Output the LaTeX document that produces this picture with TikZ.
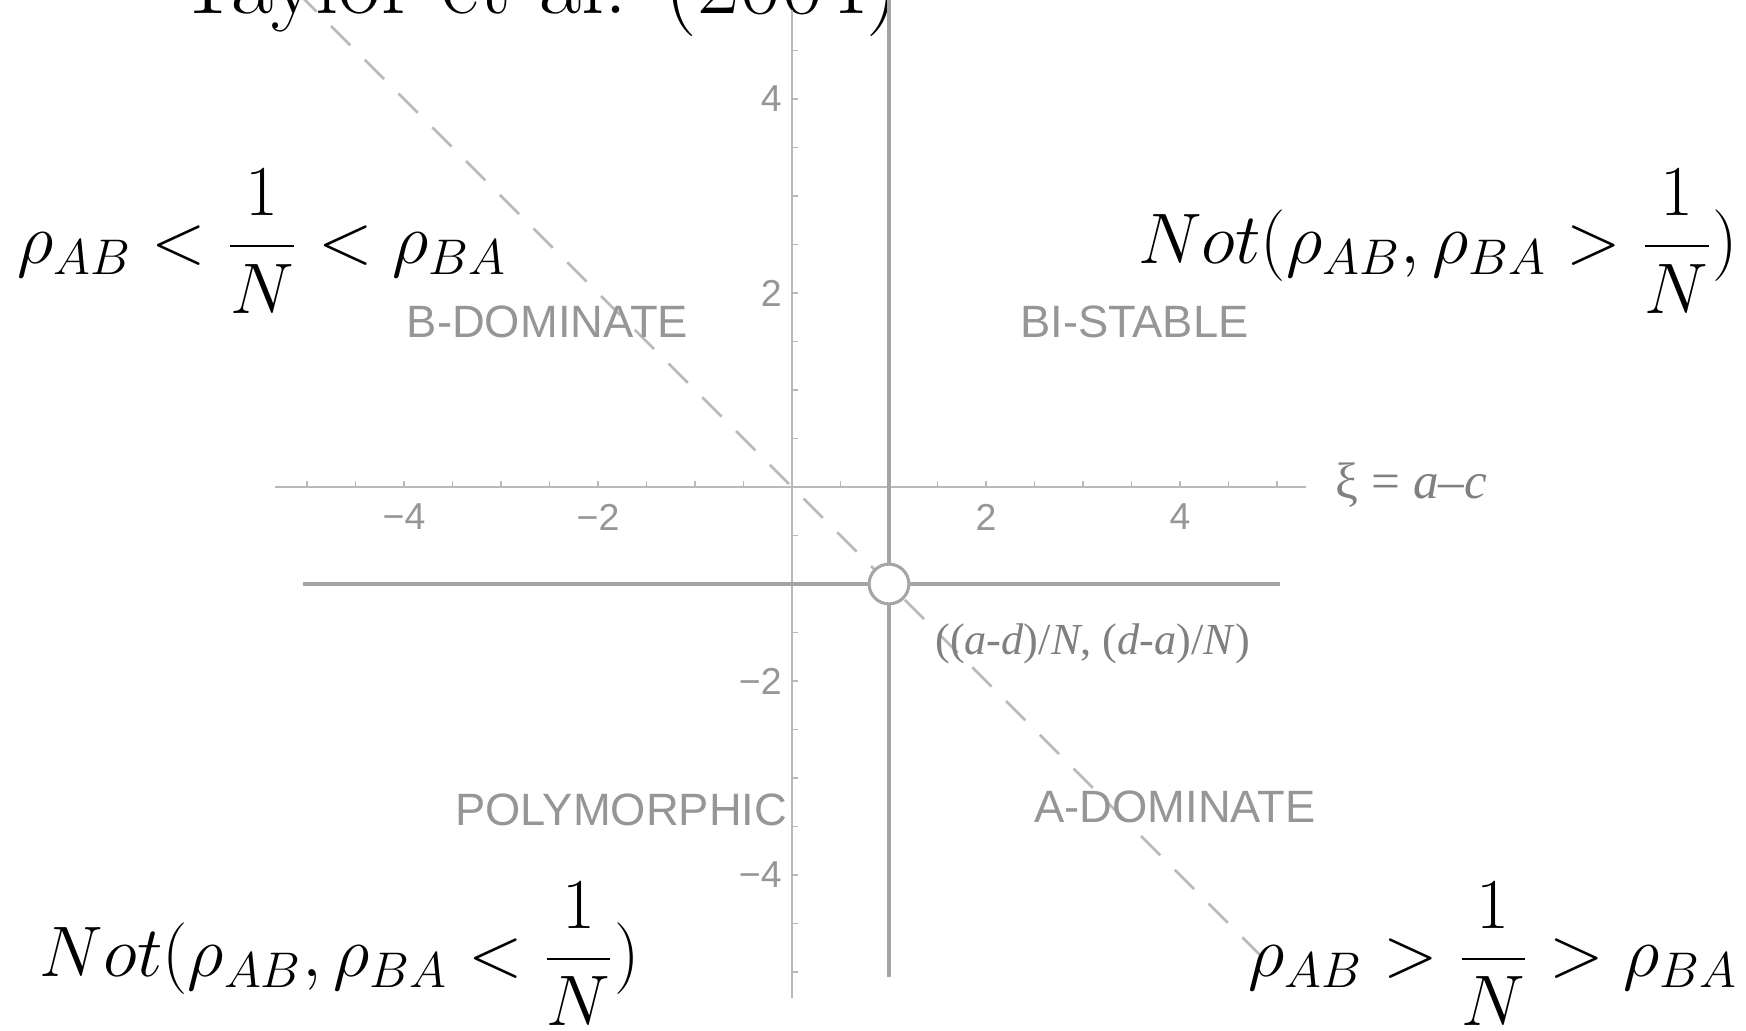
\RequirePackage{fix-cm}
\documentclass[tikz,border=0pt]{standalone}
\usepackage{amsmath}
\usepackage{fontspec}
\newfontfamily\plotsans{Liberation Sans}
\newfontfamily\plotserif{Liberation Serif}
\definecolor{axisGray}{RGB}{185,185,185}
\definecolor{lineGray}{RGB}{165,165,165}
\definecolor{labelGray}{RGB}{150,150,150}
\usetikzlibrary{positioning}

\begin{document}
\begin{tikzpicture}[x=1cm,y=1cm,
    region/.style={font=\plotsans\fontsize{13.3}{15}\selectfont, text=labelGray, inner sep=0pt},
    ticklbl/.style={font=\plotsans\fontsize{11}{13}\selectfont, text=labelGray, inner sep=0pt},
    cond/.style={font=\fontsize{21}{25}\selectfont, inner sep=0pt}]
  \useasboundingbox (-8.165,-5.608) rectangle (9.835,5.021);

  % title (cut off at the top edge)
  \node[font=\fontsize{27}{32}\selectfont, anchor=base] (title) at (-2.62,4.88) {Taylor et al. (2004)};

  % axes and ticks
  \draw[axisGray, line width=0.6pt] (-5.33,0) -- (5.3,0);
  \draw[axisGray, line width=0.6pt] (0,-5.27) -- (0,4.92);
  \foreach \t in {-5,-4.5,...,5.1}
    \draw[axisGray, line width=0.4pt] (\t,0) -- (\t,0.06);
  \foreach \t in {-5,-4.5,...,4.6}
    \draw[axisGray, line width=0.4pt] (0,\t) -- (0.06,\t);
  \foreach \t/\s in {-4/{−4},-2/{−2},2/2,4/4} {
    \node[ticklbl, anchor=north] (xt\t) at (\t,-0.17) {\s};
    \node[ticklbl, anchor=east] (yt\t) at (-0.1,\t) {\s};
  }
  \node[anchor=base west, font=\plotserif\fontsize{15}{18}\selectfont, text=labelGray!85!black, inner sep=0pt]
    (xilbl) at (5.6,-0.12) {ξ = \textit{a}–\textit{c}};

  % boundaries
  \draw[lineGray, line width=0.9pt] (1,-5.05) -- (1,5.1);
  \draw[lineGray, line width=0.9pt] (-5.04,-1) -- (5.03,-1);
  \draw[axisGray, line width=0.8pt, dash pattern=on 8pt off 6pt] (-5.1,5.1) -- (4.9,-4.9);
  \node[circle, draw=lineGray, fill=white, line width=0.9pt, minimum size=0.41cm, inner sep=0pt] (eq) at (1,-1) {};
  \node[anchor=west, font=\plotserif\fontsize{13}{15}\selectfont, text=labelGray!85!black, inner sep=0pt]
    (eqlbl) at (1.47,-1.62) {((\textit{a}-\textit{d})/\textit{N}, (\textit{d}-\textit{a})/\textit{N})};

  % regions
  \node[region] (bdom) at (-2.52,1.70) {B-DOMINATE};
  \node[region] (bist) at (3.53,1.70) {BI-STABLE};
  \node[region] (poly) at (-1.76,-3.33) {POLYMORPHIC};
  \node[region] (adom) at (3.95,-3.30) {A-DOMINATE};

  % fixation conditions
  \node[cond, anchor=base west] (condtl) at (-7.99,2.30) {$\displaystyle \rho_{AB} < \frac{1}{N} < \rho_{BA}$};
  \node[cond, anchor=base east] (condtr) at (9.76,2.30) {$\displaystyle Not(\rho_{AB},\rho_{BA} > \frac{1}{N})$};
  \node[cond, anchor=base west] (condbl) at (-7.76,-5.05) {$\displaystyle Not(\rho_{AB},\rho_{BA} < \frac{1}{N})$};
  \node[cond, anchor=base east] (condbr) at (9.76,-5.05) {$\displaystyle \rho_{AB} > \frac{1}{N} > \rho_{BA}$};
\end{tikzpicture}
\end{document}
